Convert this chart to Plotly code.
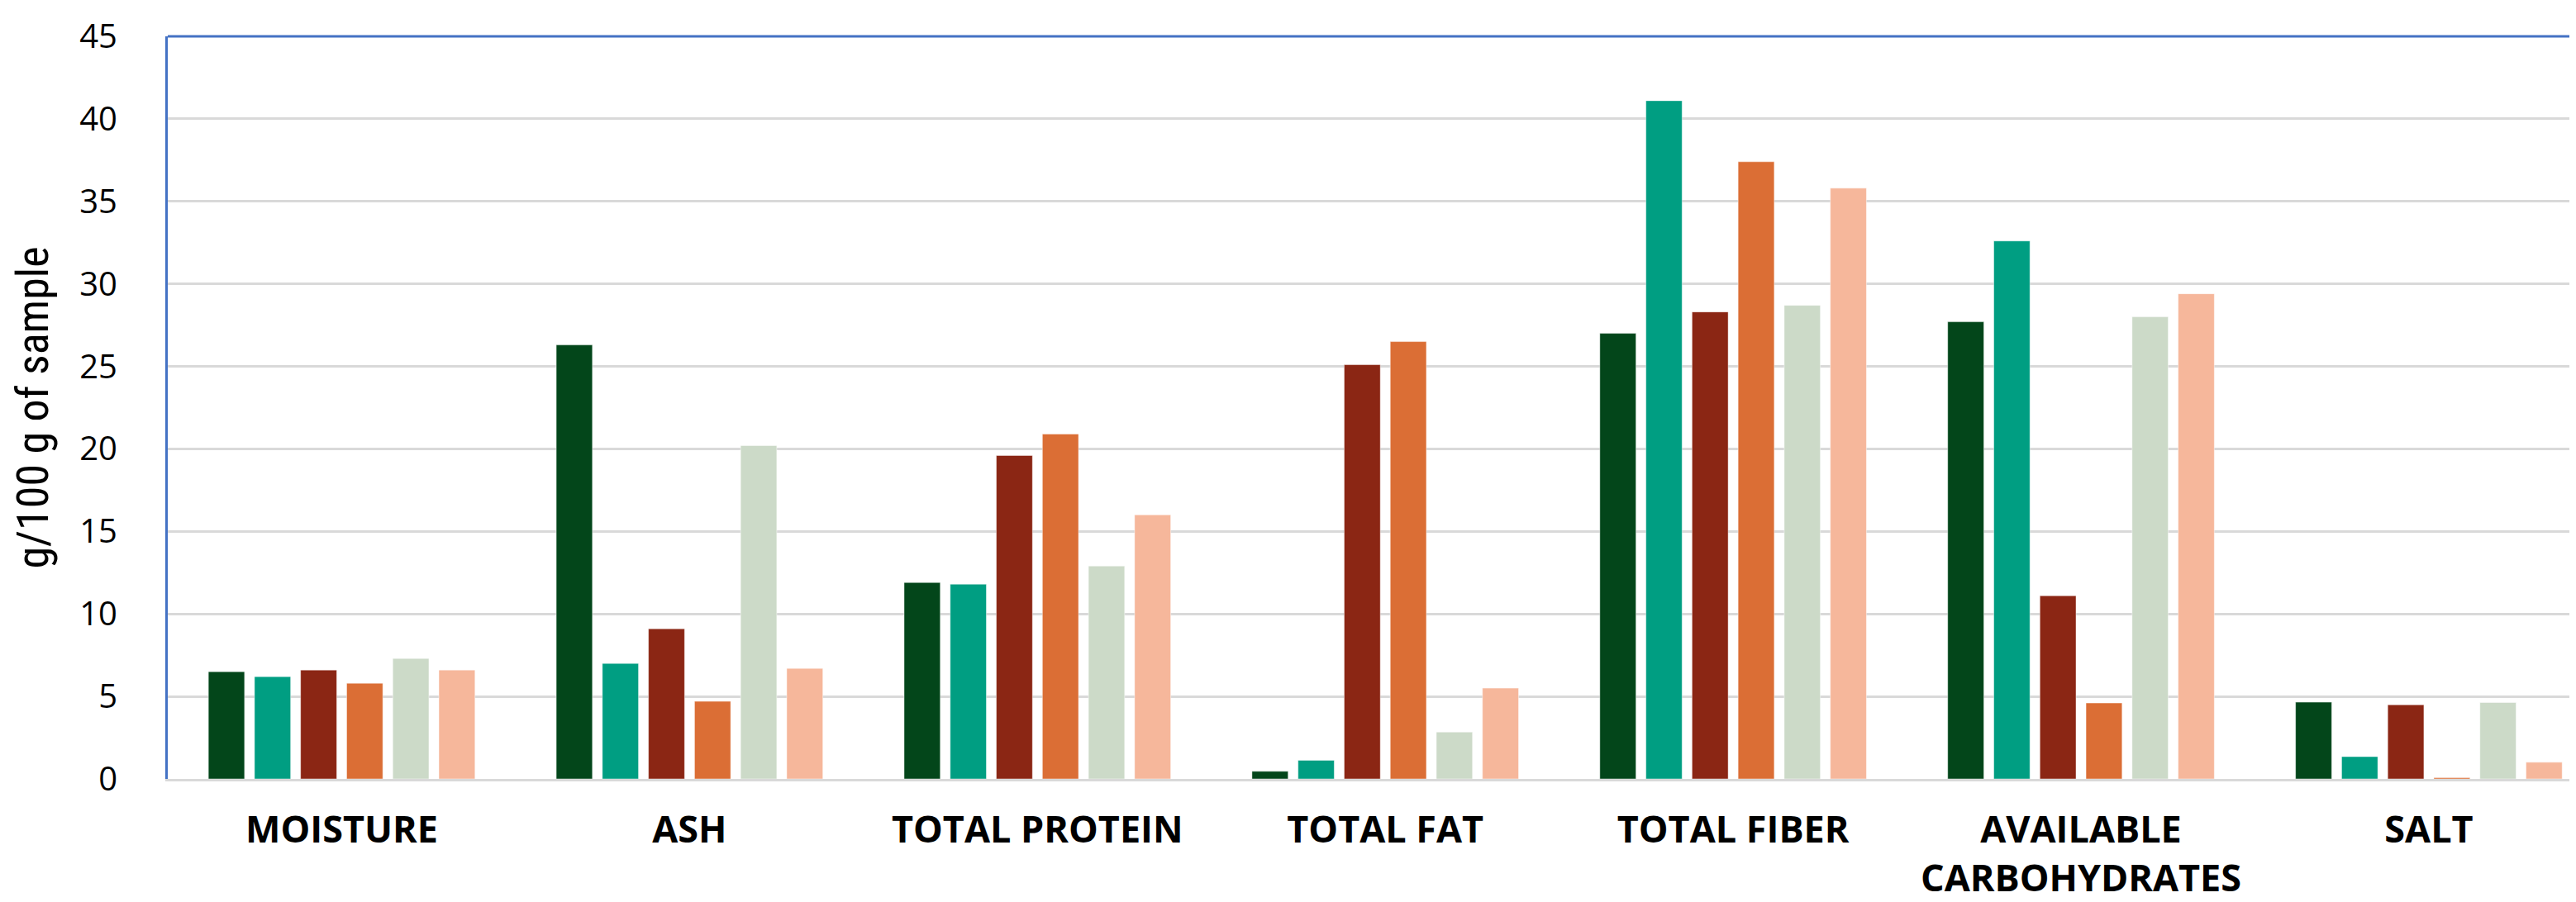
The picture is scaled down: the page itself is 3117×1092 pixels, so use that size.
import plotly.graph_objects as go

categories = ["MOISTURE", "ASH", "TOTAL PROTEIN", "TOTAL FAT", "TOTAL FIBER",
              "AVAILABLE<br>CARBOHYDRATES", "SALT"]

series_names = ["Sample 1", "Sample 2", "Sample 3", "Sample 4", "Sample 5", "Sample 6"]

s1 = [6.5, 26.3, 11.9, 0.46, 27.0, 27.7, 4.65]
s2 = [6.2, 7.0, 11.8, 1.13, 41.1, 32.6, 1.35]
s3 = [6.6, 9.1, 19.6, 25.1, 28.3, 11.1, 4.49]
s4 = [5.8, 4.7, 20.9, 26.5, 37.4, 4.6, 0.08]
s5 = [7.3, 20.2, 12.9, 2.84, 28.7, 28.0, 4.63]
s6 = [6.6, 6.7, 16.0, 5.5, 35.8, 29.4, 1.01]

colors = ["#03461A", "#009E82", "#8B2614", "#DB6E35", "#CCDAC8", "#F6B79B"]

y_ticks = [0, 5, 10, 15, 20, 25, 30, 35, 40, 45]

fig = go.Figure()
for name, vals, col in zip(series_names, [s1, s2, s3, s4, s5, s6], colors):
    fig.add_trace(go.Bar(
        x=categories, y=vals, name=name,
        marker=dict(color=col, line=dict(color="rgba(255,255,255,0.45)", width=1)),
    ))

# page body has an 8px default margin, so the figure is sized/offset to compensate
fig.update_layout(
    width=3109, height=1084,
    margin=dict(l=195, r=0, t=36, b=133, pad=0),
    paper_bgcolor="white", plot_bgcolor="white",
    barmode="group", bargap=0.205, bargroupgap=0.216,
    showlegend=False,
    font=dict(family="Open Sans", color="black"),
)

fig.update_xaxes(
    range=[-0.5, 6.423],
    showline=True, linecolor="#D9D9D9", linewidth=3,
    showgrid=False, ticks="",
    tickfont=dict(family="Open Sans", size=45, color="black", weight="bold"),
    ticklabelstandoff=20,
)

fig.update_yaxes(
    range=[0, 45], tickvals=y_ticks,
    showline=True, linecolor="#4472C4", linewidth=3,
    showgrid=True, gridcolor="#D9D9D9", gridwidth=3,
    zeroline=False,
    ticks="", ticklabelstandoff=50,
    tickfont=dict(family="Open Sans", size=40, color="black"),
    title=dict(text="g/100 g of sample",
               font=dict(family="Liberation Sans Narrow, Roboto Condensed, Roboto, sans-serif", size=54, color="black"),
               standoff=24),
)

fig.add_shape(type="line", xref="paper", yref="paper", x0=0, x1=1, y0=1, y1=1,
              line=dict(color="#4472C4", width=3))

fig.write_html("out.html")
